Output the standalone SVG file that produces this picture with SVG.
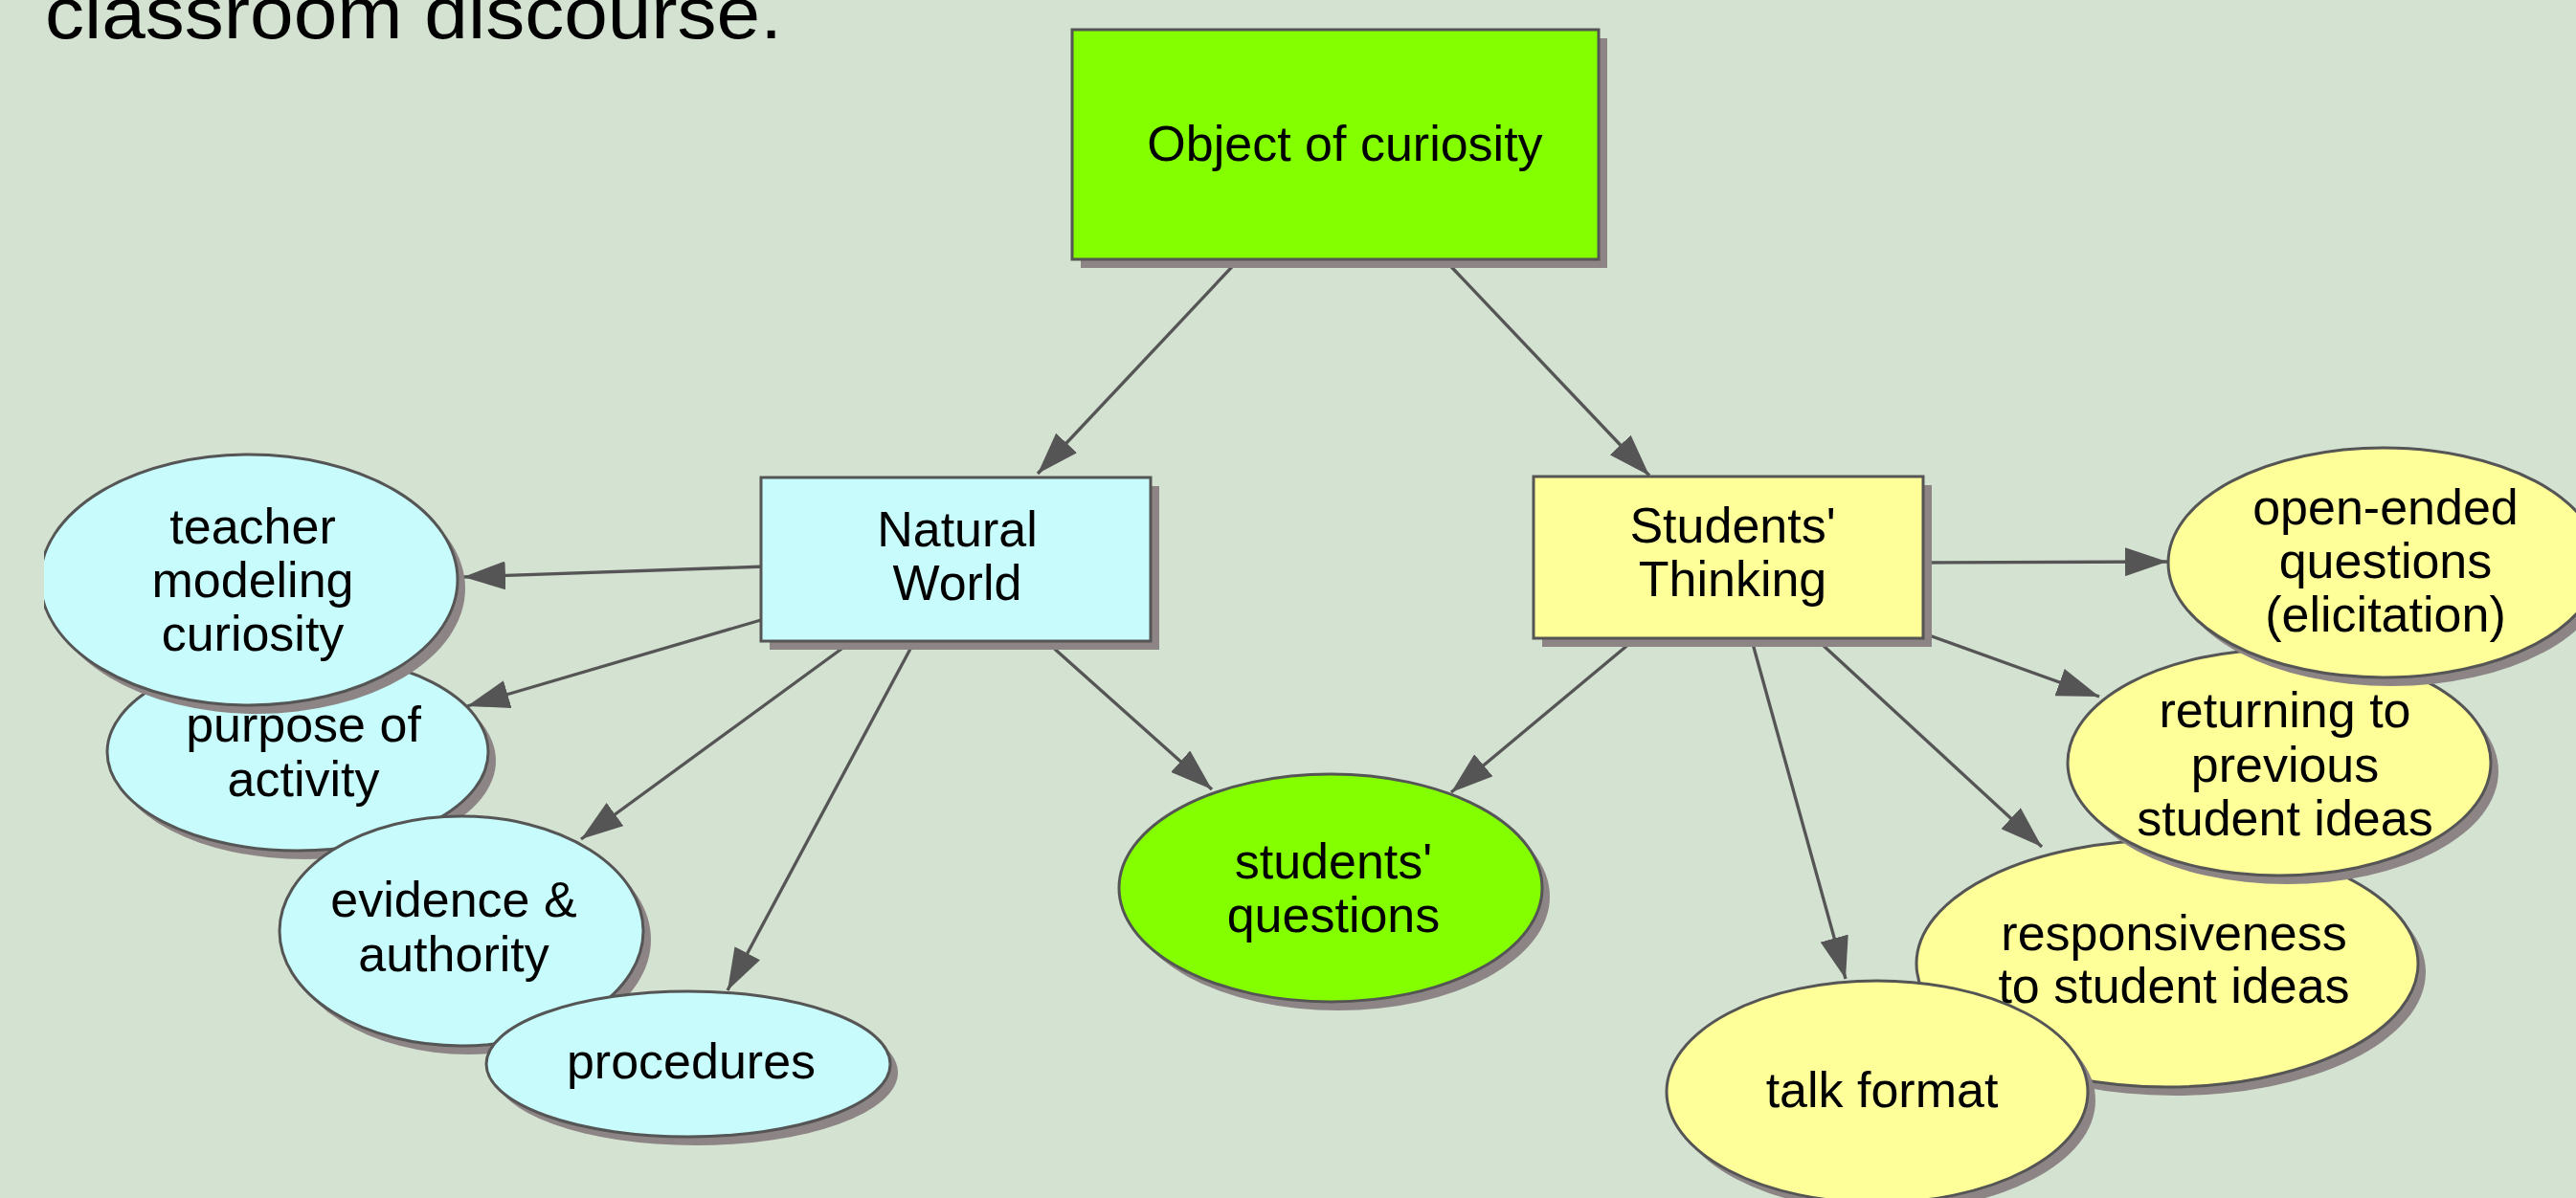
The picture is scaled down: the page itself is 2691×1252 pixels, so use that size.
<svg xmlns="http://www.w3.org/2000/svg" width="2691" height="1252" viewBox="0 0 2691 1252">
<style>
.bg{fill:#d4e2d1}
.sh{fill:#8d8585}
.bd{stroke:#555555;stroke-width:3}
.cyan{fill:#c8fcfc}
.yel{fill:#ffff9a}
.grn{fill:#84ff00}
.t{font-family:"Liberation Sans",Arial,sans-serif;font-size:52px;fill:#000;text-anchor:middle}
.c{stroke:#555555;stroke-width:3.3;fill:none;marker-end:url(#ah)}
</style>
<defs>
<marker id="ah" markerUnits="userSpaceOnUse" markerWidth="44" markerHeight="30" refX="44" refY="15" orient="auto">
<path d="M0,0 L44,15 L0,30 z" fill="#555555"/>
</marker>
<clipPath id="clipL"><rect x="46" y="0" width="2645" height="1252"/></clipPath>
</defs>
<rect class="bg" x="0" y="0" width="2691" height="1252"/>
<text x="47" y="40" font-family="'Liberation Sans',Arial,sans-serif" font-size="76" textLength="770" lengthAdjust="spacingAndGlyphs" fill="#000">classroom discourse.</text>

<g id="connectors">
<line class="c" x1="1300" y1="265" x2="1084" y2="495"/>
<line class="c" x1="1503" y1="265" x2="1723" y2="497"/>
<line class="c" x1="800" y1="592" x2="484" y2="603"/>
<line class="c" x1="800" y1="646.5" x2="488" y2="738"/>
<line class="c" x1="897" y1="665" x2="607" y2="877"/>
<line class="c" x1="958" y1="665" x2="760" y2="1035"/>
<line class="c" x1="1087" y1="665" x2="1266" y2="825"/>
<line class="c" x1="1715" y1="662" x2="1516" y2="828"/>
<line class="c" x1="1828" y1="662" x2="1928" y2="1023"/>
<line class="c" x1="1891" y1="662" x2="2133" y2="885"/>
<line class="c" x1="2000" y1="658.5" x2="2193" y2="728"/>
<line class="c" x1="2005" y1="588" x2="2264" y2="587"/>
</g>

<g id="object-of-curiosity">
<rect class="sh" x="1129" y="40" width="550" height="240"/>
<rect class="grn bd" x="1120" y="31" width="550" height="240"/>
<text class="t" x="1405" y="168">Object of curiosity</text>
</g>

<g id="natural-world">
<rect class="sh" x="804" y="508" width="407" height="171"/>
<rect class="cyan bd" x="795" y="499" width="407" height="171"/>
<text class="t" x="1000" y="571">Natural</text>
<text class="t" x="1000" y="627">World</text>
</g>

<g id="students-thinking">
<rect class="sh" x="1611" y="507" width="407" height="169"/>
<rect class="yel bd" x="1602" y="498" width="407" height="169"/>
<text class="t" x="1810" y="567">Students'</text>
<text class="t" x="1810" y="623">Thinking</text>
</g>

<g id="purpose-of-activity">
<ellipse class="sh" cx="319" cy="795" rx="199" ry="103"/>
<ellipse class="cyan bd" cx="311" cy="786" rx="199" ry="103"/>
<text class="t" x="317" y="775">purpose of</text>
<text class="t" x="317" y="832">activity</text>
</g>

<g id="teacher-modeling-curiosity" clip-path="url(#clipL)">
<ellipse class="sh" cx="268" cy="615" rx="218" ry="131"/>
<ellipse class="cyan bd" cx="260" cy="606" rx="218" ry="131"/>
<text class="t" x="264" y="568">teacher</text>
<text class="t" x="264" y="624">modeling</text>
<text class="t" x="264" y="680">curiosity</text>
</g>

<g id="evidence-authority">
<ellipse class="sh" cx="490" cy="982" rx="190" ry="120"/>
<ellipse class="cyan bd" cx="482" cy="973" rx="190" ry="120"/>
<text class="t" x="474" y="958">evidence &amp;</text>
<text class="t" x="474" y="1015">authority</text>
</g>

<g id="procedures">
<ellipse class="sh" cx="727" cy="1121" rx="211" ry="76"/>
<ellipse class="cyan bd" cx="719" cy="1112" rx="211" ry="76"/>
<text class="t" x="722" y="1127">procedures</text>
</g>

<g id="students-questions">
<ellipse class="sh" cx="1398" cy="937" rx="221" ry="119"/>
<ellipse class="grn bd" cx="1390" cy="928" rx="221" ry="119"/>
<text class="t" x="1393" y="918">students'</text>
<text class="t" x="1393" y="974">questions</text>
</g>

<g id="responsiveness">
<ellipse class="sh" cx="2272" cy="1016" rx="262" ry="129"/>
<ellipse class="yel bd" cx="2264" cy="1007" rx="262" ry="129"/>
<text class="t" x="2271" y="993">responsiveness</text>
<text class="t" x="2271" y="1048">to student ideas</text>
</g>

<g id="returning">
<ellipse class="sh" cx="2389" cy="806" rx="221" ry="118"/>
<ellipse class="yel bd" cx="2381" cy="797" rx="221" ry="118"/>
<text class="t" x="2387" y="760">returning to</text>
<text class="t" x="2387" y="817">previous</text>
<text class="t" x="2387" y="873">student ideas</text>
</g>

<g id="open-ended">
<ellipse class="sh" cx="2498" cy="597" rx="225" ry="120"/>
<ellipse class="yel bd" cx="2490" cy="588" rx="225" ry="120"/>
<text class="t" x="2492" y="548">open-ended</text>
<text class="t" x="2492" y="604">questions</text>
<text class="t" x="2492" y="660">(elicitation)</text>
</g>

<g id="talk-format">
<ellipse class="sh" cx="1969" cy="1150" rx="220" ry="116"/>
<ellipse class="yel bd" cx="1961" cy="1141" rx="220" ry="116"/>
<text class="t" x="1966" y="1157">talk format</text>
</g>
</svg>
